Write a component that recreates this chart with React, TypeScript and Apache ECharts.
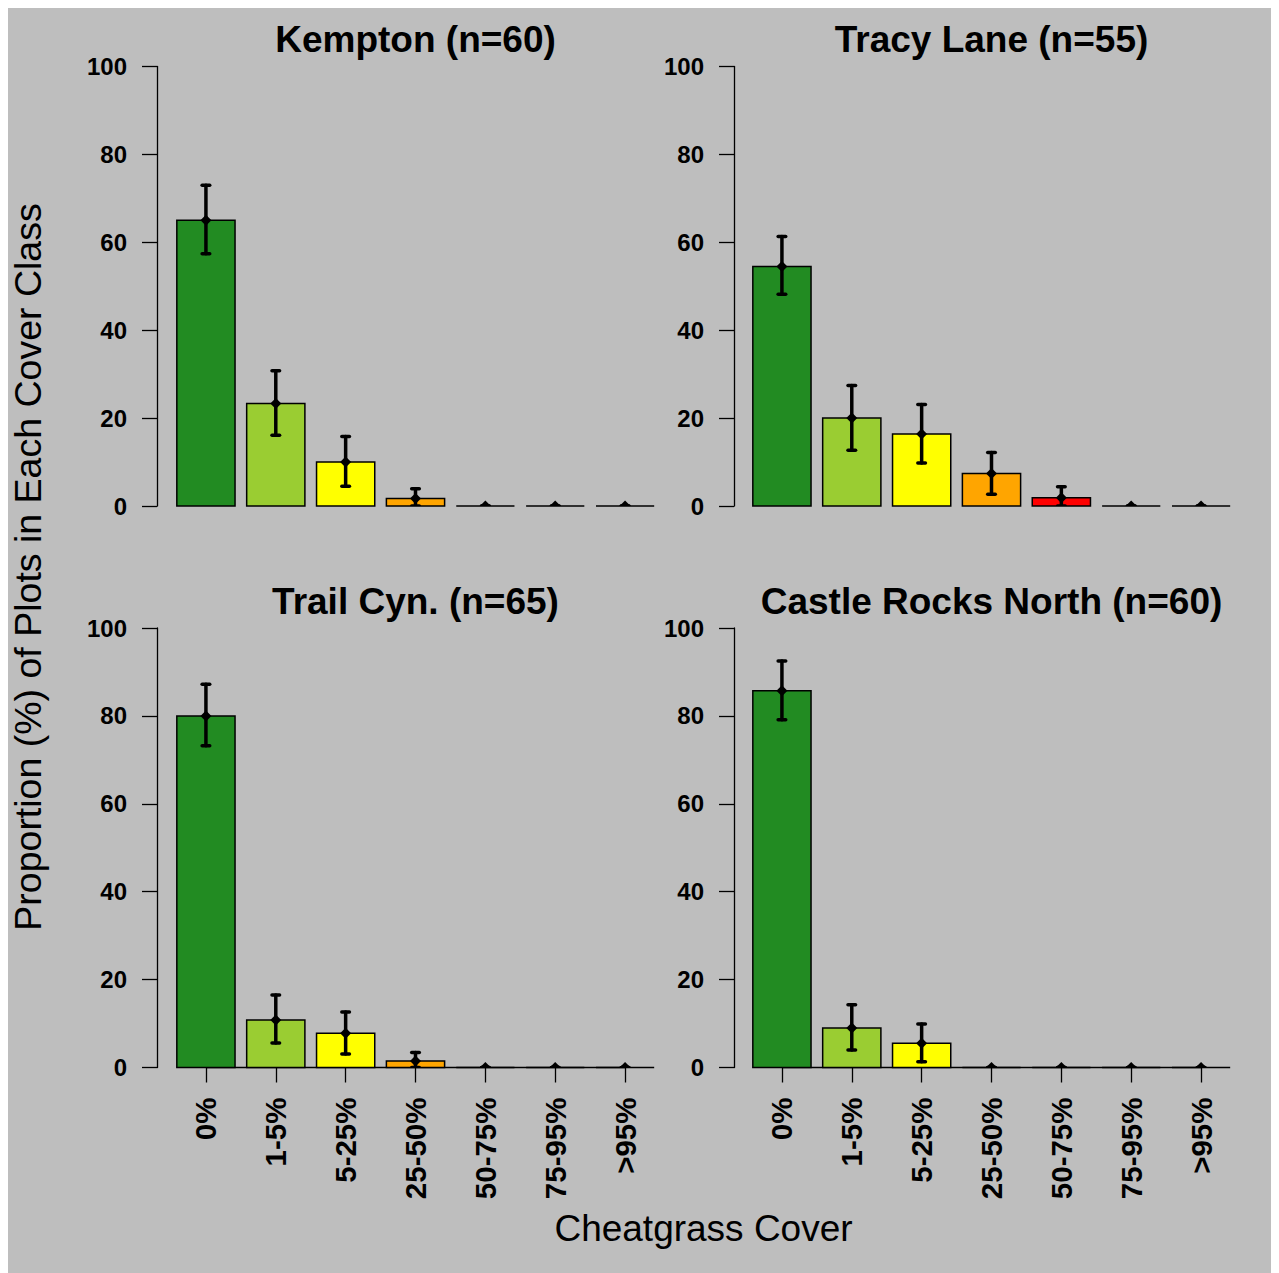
import React, { useEffect, useRef } from "react";
import * as echarts from "echarts";

const categories = ["0%", "1-5%", "5-25%", "25-50%", "50-75%", "75-95%", ">95%"];
const barColors = ["#228B22", "#9ACD32", "#FFFF00", "#FFA500", "#FF0000", "#8B0000", "#8B4513"];
const yTicks = [0, 20, 40, 60, 80, 100];

const panelTitles = ["Kempton (n=60)", "Tracy Lane (n=55)", "Trail Cyn. (n=65)", "Castle Rocks North (n=60)"];

const kemptonMean = [65, 23.3, 10, 1.7, 0, 0, 0];
const kemptonLow = [57.4, 16.1, 4.5, 0, 0, 0, 0];
const kemptonHigh = [73, 30.8, 15.8, 3.9, 0, 0, 0];

const tracyMean = [54.5, 20, 16.4, 7.4, 1.9, 0, 0];
const tracyLow = [48.2, 12.7, 9.8, 2.7, 0, 0, 0];
const tracyHigh = [61.3, 27.4, 23.1, 12.2, 4.4, 0, 0];

const trailMean = [80, 10.8, 7.8, 1.5, 0, 0, 0];
const trailLow = [73.2, 5.6, 3.1, 0, 0, 0, 0];
const trailHigh = [87.2, 16.5, 12.6, 3.4, 0, 0, 0];

const castleMean = [85.7, 9, 5.5, 0, 0, 0, 0];
const castleLow = [79.1, 4, 1.3, 0, 0, 0, 0];
const castleHigh = [92.5, 14.3, 9.9, 0, 0, 0, 0];

const xTitle = "Cheatgrass Cover";
const yTitle = "Proportion (%) of Plots in Each Cover Class";

const FONT = "'Liberation Sans', Arial, Helvetica, sans-serif";

export default function App() {
  const ref = useRef<HTMLDivElement>(null);

  useEffect(() => {
    if (!ref.current) return;
    const chart = echarts.init(ref.current, null, { renderer: "svg" });

    const panels = [
      { mean: kemptonMean, low: kemptonLow, high: kemptonHigh },
      { mean: tracyMean, low: tracyLow, high: tracyHigh },
      { mean: trailMean, low: trailLow, high: trailHigh },
      { mean: castleMean, low: castleLow, high: castleHigh },
    ];

    const gridW = 489;
    const gridH = 439.5;
    const lefts = [163, 739, 163, 739];
    const tops = [58.5, 58.5, 620, 620];
    const offsets = [14, 13, 14, 13];

    const grids = panels.map((_, i) => ({
      left: lefts[i],
      top: tops[i],
      width: gridW,
      height: gridH,
      containLabel: false,
    }));

    const xAxes = panels.map((_, i) => {
      const bottom = i >= 2;
      return {
        type: "category",
        gridIndex: i,
        data: categories,
        boundaryGap: true,
        axisLine: { show: false },
        axisTick: {
          show: bottom,
          alignWithLabel: true,
          length: 15,
          lineStyle: { color: "#000", width: 1.3 },
        },
        axisLabel: {
          show: bottom,
          interval: 0,
          rotate: 90,
          margin: 30,
          color: "#000",
          fontSize: 29.5,
          fontWeight: "bold",
          fontFamily: FONT,
          padding: [0, 0, 5, 0],
        },
        splitLine: { show: false },
      };
    });

    const yAxes = panels.map((_, i) => ({
      type: "value",
      gridIndex: i,
      min: 0,
      max: 100,
      interval: 20,
      offset: offsets[i],
      axisLine: { show: true, lineStyle: { color: "#000", width: 1.3 } },
      axisTick: { show: true, length: 15, lineStyle: { color: "#000", width: 1.3 } },
      axisLabel: {
        show: true,
        margin: 30,
        color: "#000",
        fontSize: 24,
        fontWeight: "bold",
        fontFamily: FONT,
        padding: [7, 0, 0, 0],
        formatter: (v: number) => (yTicks.includes(v) ? String(v) : ""),
      },
      splitLine: { show: false },
    }));

    const series: any[] = [];
    panels.forEach((p, i) => {
      const bottom = i >= 2;
      series.push({
        type: "custom",
        xAxisIndex: i,
        yAxisIndex: i,
        clip: false,
        data: p.mean.map((v, k) => [k, v]),
        renderItem: (params: any, api: any) => {
          const idx = api.value(0);
          const v = api.value(1);
          const base = api.coord([idx, 0]);
          const top = api.coord([idx, v]);
          const bw = api.size([1, 0])[0] / 1.2;
          const children: any[] = [];
          if (bottom && params.dataIndex === 0) {
            const a = api.coord([0, 0]);
            const b = api.coord([categories.length - 1, 0]);
            children.push({
              type: "line",
              shape: { x1: a[0], y1: a[1], x2: b[0], y2: b[1] },
              style: { stroke: "#000", lineWidth: 1.3 },
            });
          }
          if (v > 0) {
            children.push({
              type: "rect",
              shape: { x: base[0] - bw / 2, y: top[1], width: bw, height: base[1] - top[1] },
              style: { fill: barColors[idx], stroke: "#000", lineWidth: 1.5 },
            });
          } else {
            children.push({
              type: "line",
              shape: { x1: base[0] - bw / 2, y1: base[1], x2: base[0] + bw / 2, y2: base[1] },
              style: { stroke: "#000", lineWidth: 1.5 },
            });
          }
          return { type: "group", children };
        },
      });
      series.push({
        type: "custom",
        xAxisIndex: i,
        yAxisIndex: i,
        clip: true,
        z: 5,
        data: p.mean.map((v, k) => [k, v, p.low[k], p.high[k]]),
        renderItem: (params: any, api: any) => {
          const idx = api.value(0);
          const m = api.coord([idx, api.value(1)]);
          const lo = api.coord([idx, api.value(2)]);
          const hi = api.coord([idx, api.value(3)]);
          const cw = 3.8;
          const d = 5.5;
          const st = { stroke: "#000", lineWidth: 3.5, lineCap: "round" };
          return {
            type: "group",
            children: [
              { type: "line", shape: { x1: lo[0], y1: lo[1], x2: hi[0], y2: hi[1] }, style: st },
              { type: "line", shape: { x1: hi[0] - cw, y1: hi[1], x2: hi[0] + cw, y2: hi[1] }, style: st },
              { type: "line", shape: { x1: lo[0] - cw, y1: lo[1], x2: lo[0] + cw, y2: lo[1] }, style: st },
              {
                type: "polygon",
                shape: {
                  points: [
                    [m[0], m[1] - d],
                    [m[0] + d, m[1]],
                    [m[0], m[1] + d],
                    [m[0] - d, m[1]],
                  ],
                },
                style: { fill: "#000" },
              },
            ],
          };
        },
      });
    });

    const titleElems = panelTitles.map((t, i) => ({
      type: "text",
      x: lefts[i] + gridW / 2,
      y: tops[i] - 27,
      style: {
        text: t,
        fill: "#000",
        fontSize: 37,
        fontWeight: "bold",
        fontFamily: FONT,
        align: "center",
        verticalAlign: "middle",
      },
    }));

    const option = {
      animation: false,
      backgroundColor: "#BEBEBE",
      grid: grids,
      xAxis: xAxes,
      yAxis: yAxes,
      series,
      graphic: [
        ...titleElems,
        {
          type: "text",
          x: 695.5,
          y: 1220,
          style: {
            text: xTitle,
            fill: "#000",
            fontSize: 37,
            fontFamily: FONT,
            align: "center",
            verticalAlign: "middle",
          },
        },
        {
          type: "text",
          x: 20,
          y: 559,
          rotation: Math.PI / 2,
          style: {
            text: yTitle,
            fill: "#000",
            fontSize: 37.5,
            fontFamily: FONT,
            align: "center",
            verticalAlign: "middle",
          },
        },
      ],
    };

    chart.setOption(option as any);
    return () => {
      chart.dispose();
    };
  }, []);

  return <div ref={ref} style={{ width: 1271, height: 1265 }} />;
}
